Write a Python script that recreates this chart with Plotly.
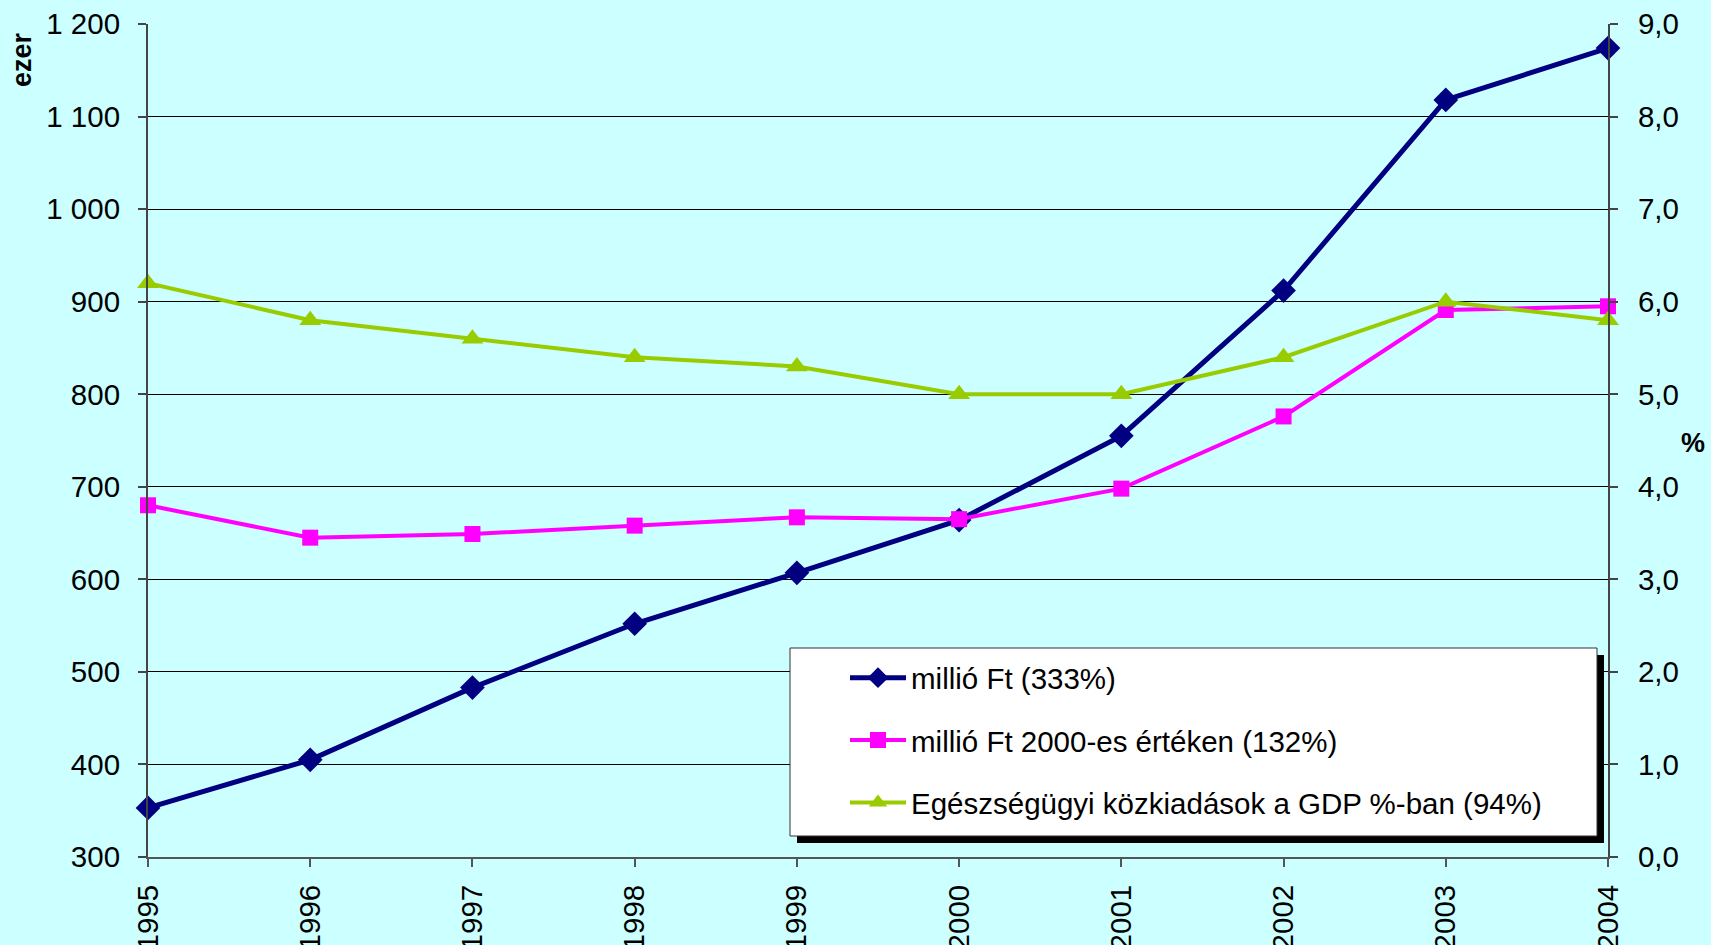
import plotly.graph_objects as go

years = [1995, 1996, 1997, 1998, 1999, 2000, 2001, 2002, 2003, 2004]
millio_ft = [353, 405, 483, 552, 607, 664, 755, 912, 1118, 1174]
millio_ft_2000 = [680, 645, 649, 658, 667, 665, 698, 776, 891, 895]
gdp_pct = [6.2, 5.8, 5.6, 5.4, 5.3, 5.0, 5.0, 5.4, 6.0, 5.8]

names = ["millió Ft (333%)", "millió Ft 2000-es értéken (132%)",
         "Egészségügyi közkiadások a GDP %-ban (94%)"]

W, H = 1711, 945
L, R, T, B = 148, 1608, 24, 857

def xp(px):
    return (px - L) / (R - L)

def yp(py):
    return (B - py) / (B - T)

FONT = "Liberation Sans, Arial, sans-serif"
FS = 29.5

fig = go.Figure()
fig.add_trace(go.Scatter(x=years, y=millio_ft, name=names[0], mode="lines+markers",
                         line=dict(color="#000080", width=5),
                         marker=dict(symbol="diamond", size=19, color="#000080"),
                         cliponaxis=False, legendgroup="a"))
fig.add_trace(go.Scatter(x=years, y=millio_ft_2000, name=names[1], mode="lines+markers",
                         line=dict(color="#FF00FF", width=4),
                         marker=dict(symbol="square", size=16, color="#FF00FF"),
                         cliponaxis=False, legendgroup="b"))
fig.add_trace(go.Scatter(x=years, y=gdp_pct, name=names[2], mode="lines+markers",
                         line=dict(color="#99CC00", width=4),
                         marker=dict(symbol="triangle-up", size=19, color="#99CC00"),
                         cliponaxis=False, yaxis="y2", legendgroup="c"))

# legend box with shadow
fig.add_shape(type="rect", xref="paper", yref="paper",
              x0=xp(797), x1=xp(1604), y0=yp(843), y1=yp(655),
              fillcolor="black", line=dict(width=0), layer="above")
fig.add_shape(type="rect", xref="paper", yref="paper",
              x0=xp(790), x1=xp(1597), y0=yp(836), y1=yp(648),
              fillcolor="white", line=dict(color="#333333", width=1), layer="above")

fig.add_annotation(text="<b>ezer</b>", xref="paper", yref="paper",
                   x=xp(22), y=yp(59), textangle=-90, showarrow=False,
                   font=dict(size=27, color="black", family=FONT),
                   xanchor="center", yanchor="middle")
fig.add_annotation(text="<b>%</b>", xref="paper", yref="paper",
                   x=xp(1693), y=yp(443), showarrow=False,
                   font=dict(size=27, color="black", family=FONT),
                   xanchor="center", yanchor="middle")

fig.update_layout(
    width=W, height=H,
    margin=dict(l=L, r=W - R, t=T, b=H - B, pad=0, autoexpand=False),
    paper_bgcolor="#CCFFFF", plot_bgcolor="#CCFFFF",
    font=dict(family=FONT, size=FS, color="black"),
    separators=", ",
    showlegend=True,
    legend=dict(x=xp(845), y=yp(652), xanchor="left", yanchor="top",
                bgcolor="rgba(0,0,0,0)", borderwidth=0,
                traceorder="grouped", tracegroupgap=21, itemwidth=56,
                font=dict(size=FS, family=FONT)),
    xaxis=dict(range=[1995, 2004], tickmode="array", tickvals=years,
               ticktext=[str(y) for y in years], tickangle=-90,
               showgrid=False, showline=True, linecolor="#555555", linewidth=2,
               ticks="outside", ticklen=8, tickcolor="#555555", tickwidth=2,
               zeroline=False, ticklabelstandoff=6, automargin=False),
    yaxis=dict(range=[300, 1200], dtick=100, tickformat=",d",
               showgrid=True, gridcolor="black", gridwidth=1,
               showline=True, linecolor="#444444", linewidth=2,
               ticks="outside", ticklen=8, tickcolor="#444444", tickwidth=2,
               zeroline=False, ticklabelstandoff=12, automargin=False),
    yaxis2=dict(range=[0, 9], dtick=1, tickformat=".1f", overlaying="y", side="right",
                showgrid=False, showline=True, linecolor="#444444", linewidth=2,
                ticks="outside", ticklen=8, tickcolor="#444444", tickwidth=2,
                zeroline=False, ticklabelstandoff=14, automargin=False),
)

fig.write_html("out.html", config={"displayModeBar": False},
               post_script="document.body.style.margin='0';document.body.style.background='#CCFFFF';")
